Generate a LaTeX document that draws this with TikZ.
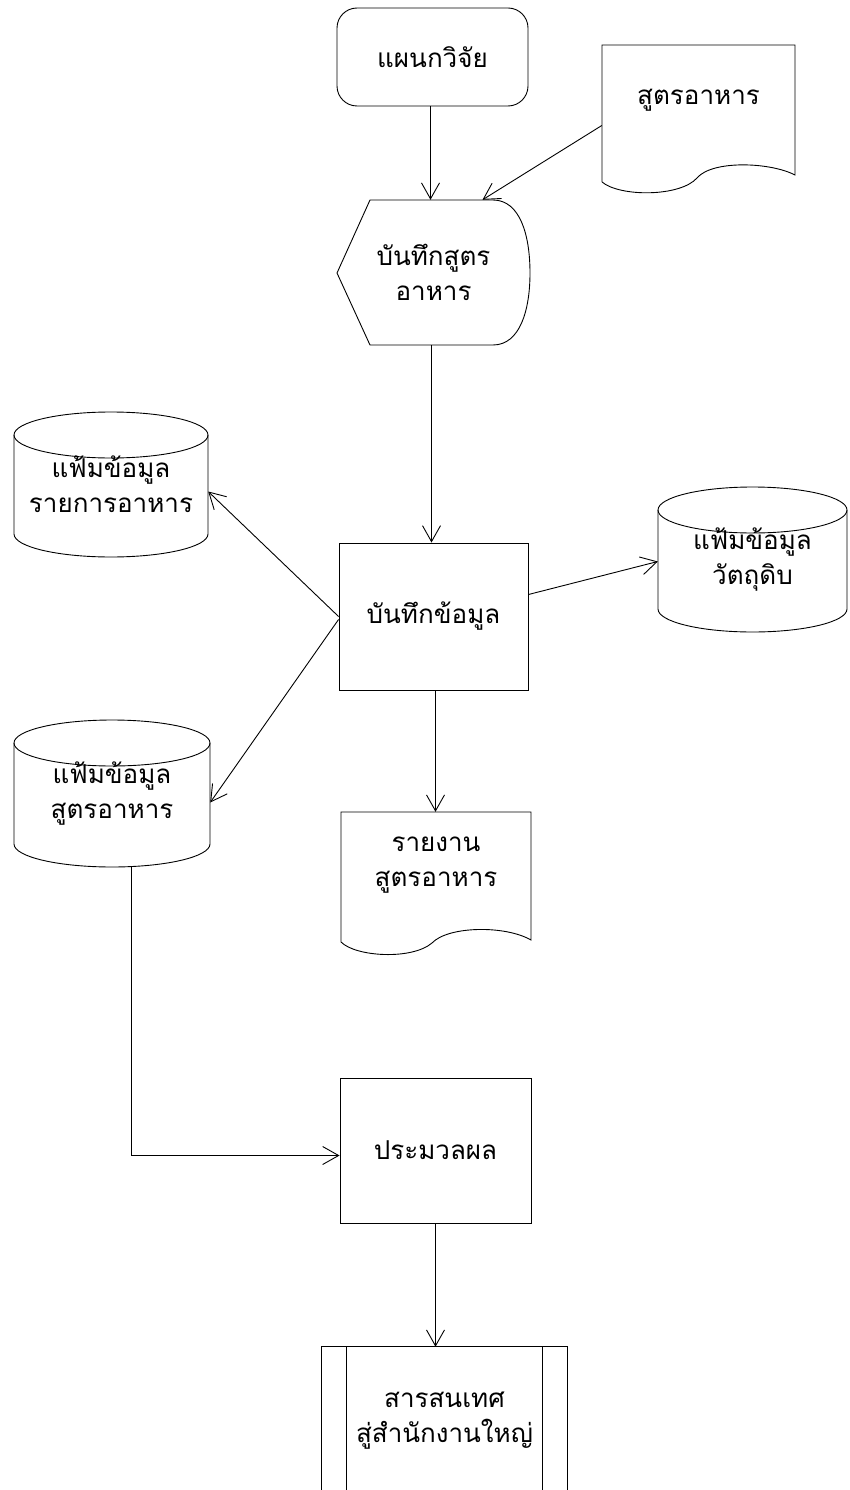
\documentclass[tikz,border=0pt]{standalone}
\usepackage{fontspec}
\newfontfamily\thaifont[Script=Thai]{Loma}
\usetikzlibrary{arrows.meta,calc}
\begin{document}
\begin{tikzpicture}[x=1pt,y=-1pt,
  ln/.style={line width=0.9pt},
  arr/.style={ln,-{Straight Barb[length=16pt,width=18pt]}},
  shp/.style={draw=none,inner sep=0pt,align=center,font=\thaifont\fontsize{26}{35}\selectfont},
  boxed/.style={shp,draw,ln}]
\useasboundingbox (0,0) rectangle (850,1490);
\fill[white] (0,0) rectangle (850,1490);

% nodes
\node[boxed,rounded corners=20pt,minimum width=191pt,minimum height=98pt] (plan) at (432.5,57) {แผนกวิจัย};
\node[shp,minimum width=193pt,minimum height=137pt,label={[shp,yshift=13.5pt]center:สูตรอาหาร}] (doc1) at (698.5,113.5) {};
\node[shp,minimum width=193pt,minimum height=145pt] (disp) at (433.5,272.5) {บันทึกสูตร\\อาหาร};
\node[boxed,minimum width=189pt,minimum height=147pt] (rec) at (433.5,616.5) {บันทึกข้อมูล};
\node[shp,minimum width=194pt,minimum height=145pt] (cyl1) at (111,484.5) {แฟ้มข้อมูล\\รายการอาหาร};
\node[shp,minimum width=189pt,minimum height=145pt] (cyl2) at (752.5,559.5) {แฟ้มข้อมูล\\วัตถุดิบ};
\node[shp,minimum width=196pt,minimum height=147pt] (cyl3) at (112,793.5) {แฟ้มข้อมูล\\สูตรอาหาร};
\node[shp,minimum width=190pt,minimum height=130pt,label={[shp,yshift=12pt]center:รายงาน\\สูตรอาหาร}] (doc2) at (436,877) {};
\node[boxed,minimum width=191pt,minimum height=145pt] (proc) at (435.5,1150.5) {ประมวลผล};
\node[shp,minimum width=245pt,minimum height=148pt] (out) at (444.5,1421) {สารสนเทศ\\สู่สำนักงานใหญ่};

% shape outlines
\draw[ln] (602,182) -- (602,45) -- (795,45) -- (795,175)
  .. controls (770,162) and (712,160) .. (697,178)
  .. controls (680,197) and (620,197) .. (602,182);
\draw[ln] (337,273) -- (370,200) -- (493,200)
  .. controls (520,200) and (530,235) .. (530,273)
  .. controls (530,310) and (520,345) .. (493,345) -- (370,345) -- cycle;
\draw[ln] (111,435) ellipse [x radius=97pt,y radius=23pt];
\draw[ln] (14,435) -- (14,534) arc[start angle=180,end angle=360,x radius=97pt,y radius=23pt] -- (208,435);
\draw[ln] (752.5,510) ellipse [x radius=94.5pt,y radius=23pt];
\draw[ln] (658,510) -- (658,609) arc[start angle=180,end angle=360,x radius=94.5pt,y radius=23pt] -- (847,510);
\draw[ln] (112,743) ellipse [x radius=98pt,y radius=23pt];
\draw[ln] (14,743) -- (14,844) arc[start angle=180,end angle=360,x radius=98pt,y radius=23pt] -- (210,743);
\draw[ln] (341,942) -- (341,812) -- (531,812) -- (531,940)
  .. controls (505,925) and (448,926) .. (432,943)
  .. controls (412,960) and (356,957) .. (341,942);
\draw[ln] (out.south west) -- (out.north west) -- (out.north east) -- (out.south east);
\draw[ln] ([xshift=25pt]out.north west) -- ([xshift=25pt]out.south west);
\draw[ln] ([xshift=-25pt]out.north east) -- ([xshift=-25pt]out.south east);

% connectors
\draw[arr] ([xshift=-2pt]plan.south) -- ([xshift=-2pt]plan.south |- disp.north);
\draw[arr] ([yshift=-12pt]doc1.west) -- ([xshift=49pt]disp.north);
\draw[arr] ([xshift=-2pt]disp.south) -- ([xshift=-2pt]disp.south |- rec.north);
\draw[arr] (rec.west) -- ([yshift=-7pt]cyl1.east);
\draw[arr] ([yshift=22pt]rec.east) -- ([yshift=-2pt]cyl2.west);
\draw[arr] ([yshift=-3pt]rec.west) -- ([yshift=-9pt]cyl3.east);
\draw[arr] ([xshift=2pt]rec.south) -- ([xshift=2pt]rec.south |- doc2.north);
\draw[arr] ([xshift=19pt]cyl3.south) |- ([yshift=-5pt]proc.west);
\draw[arr] (proc.south) -- (proc.south |- out.north);
\end{tikzpicture}
\end{document}
